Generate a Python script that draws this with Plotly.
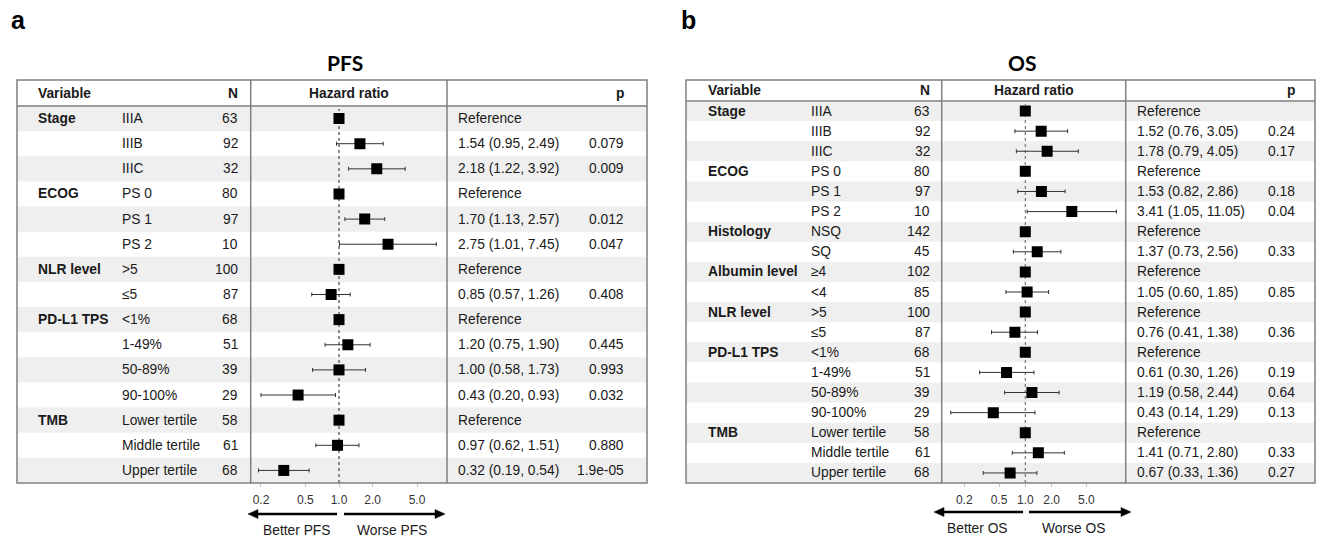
import math
import plotly.graph_objects as go

W, H = 1318, 539
FONT = "Liberation Sans, Arial, sans-serif"

# ---------------- data: PFS (panel a) ----------------
pfs_var = ["Stage", "", "", "ECOG", "", "", "NLR level", "", "PD-L1 TPS", "", "", "", "TMB", "", ""]
pfs_level = ["IIIA", "IIIB", "IIIC", "PS 0", "PS 1", "PS 2", ">5", "≤5", "<1%", "1-49%", "50-89%",
             "90-100%", "Lower tertile", "Middle tertile", "Upper tertile"]
pfs_n = [63, 92, 32, 80, 97, 10, 100, 87, 68, 51, 39, 29, 58, 61, 68]
pfs_hr = [1, 1.54, 2.18, 1, 1.70, 2.75, 1, 0.85, 1, 1.20, 1.00, 0.43, 1, 0.97, 0.32]
pfs_lo = [None, 0.95, 1.22, None, 1.13, 1.01, None, 0.57, None, 0.75, 0.58, 0.20, None, 0.62, 0.19]
pfs_hi = [None, 2.49, 3.92, None, 2.57, 7.45, None, 1.26, None, 1.90, 1.73, 0.93, None, 1.51, 0.54]
pfs_p = ["", "0.079", "0.009", "", "0.012", "0.047", "", "0.408", "", "0.445", "0.993", "0.032",
         "", "0.880", "1.9e-05"]

# ---------------- data: OS (panel b) ----------------
os_var = ["Stage", "", "", "ECOG", "", "", "Histology", "", "Albumin level", "", "NLR level", "",
          "PD-L1 TPS", "", "", "", "TMB", "", ""]
os_level = ["IIIA", "IIIB", "IIIC", "PS 0", "PS 1", "PS 2", "NSQ", "SQ", "≥4", "<4", ">5", "≤5",
            "<1%", "1-49%", "50-89%", "90-100%", "Lower tertile", "Middle tertile", "Upper tertile"]
os_n = [63, 92, 32, 80, 97, 10, 142, 45, 102, 85, 100, 87, 68, 51, 39, 29, 58, 61, 68]
os_hr = [1, 1.52, 1.78, 1, 1.53, 3.41, 1, 1.37, 1, 1.05, 1, 0.76, 1, 0.61, 1.19, 0.43, 1, 1.41, 0.67]
os_lo = [None, 0.76, 0.79, None, 0.82, 1.05, None, 0.73, None, 0.60, None, 0.41, None, 0.30, 0.58,
         0.14, None, 0.71, 0.33]
os_hi = [None, 3.05, 4.05, None, 2.86, 11.05, None, 2.56, None, 1.85, None, 1.38, None, 1.26, 2.44,
         1.29, None, 2.80, 1.36]
os_p = ["", "0.24", "0.17", "", "0.18", "0.04", "", "0.33", "", "0.85", "", "0.36", "", "0.19", "0.64",
        "0.13", "", "0.33", "0.27"]

tick_vals = [0.2, 0.5, 1, 2, 5]
tick_text = ["0.2", "0.5", "1.0", "2.0", "5.0"]


def PX(x):
    return x / W


def PY(y):
    return 1 - y / H


fig = go.Figure()
shapes = []
annots = []


def panel(idx, var, level, n, hr, lo, hi, p, geo, title, letter, better, worse):
    xa = "x" if idx == 1 else "x%d" % idx
    ya = "y" if idx == 1 else "y%d" % idx
    g = geo
    nrow = len(level)

    # stripes
    for i in range(nrow):
        if i % 2 == 0:
            shapes.append(dict(type="rect", xref="paper", yref=ya, x0=PX(g["left"]), x1=PX(g["right"]),
                               y0=i - 0.5, y1=i + 0.5, fillcolor="#efefef", line=dict(width=0),
                               layer="below"))
    # dashed null line
    shapes.append(dict(type="line", xref=xa, yref="paper", x0=1, x1=1, y0=PY(g["bottom"]),
                       y1=PY(g["hdr"] + 3), line=dict(color=g["dashc"], width=1.2, dash="3px,3px"),
                       layer="below"))
    # borders
    bc = dict(color="#808080", width=1.5)
    shapes.append(dict(type="rect", xref="paper", yref="paper", x0=PX(g["left"]), x1=PX(g["right"]),
                       y0=PY(g["bottom"]), y1=PY(g["top"]), line=bc, layer="above"))
    shapes.append(dict(type="line", xref="paper", yref="paper", x0=PX(g["left"]), x1=PX(g["right"]),
                       y0=PY(g["hdr"]), y1=PY(g["hdr"]), line=bc, layer="above"))
    for xv in (g["hrl"], g["hrr"]):
        shapes.append(dict(type="line", xref="paper", yref="paper", x0=PX(xv), x1=PX(xv),
                           y0=PY(g["bottom"]), y1=PY(g["top"]), line=bc, layer="above"))

    # markers + CI
    plus = [0 if h2 is None else h2 - h for h, h2 in zip(hr, hi)]
    minus = [0 if l is None else h - l for h, l in zip(hr, lo)]
    fig.add_trace(go.Scatter(
        x=hr, y=list(range(nrow)), xaxis=xa, yaxis=ya, mode="markers",
        marker=dict(symbol="square", size=11, color="black"),
        error_x=dict(type="data", symmetric=False, array=plus, arrayminus=minus,
                     color="#333333", thickness=1, width=2),
        showlegend=False, hoverinfo="skip"))

    tf = dict(family=FONT, size=13.8, color="#1a1a1a")
    # header
    hy = PY((g["top"] + g["hdr"]) / 2)
    annots.append(dict(text="<b>Variable</b>", x=PX(g["cvar"]), y=hy, xanchor="left"))
    annots.append(dict(text="<b>N</b>", x=PX(g["cn"]), y=hy, xanchor="right"))
    annots.append(dict(text="<b>Hazard ratio</b>", x=PX((g["hrl"] + g["hrr"]) / 2), y=hy, xanchor="center"))
    annots.append(dict(text="<b>p</b>", x=PX(g["cp"]), y=hy, xanchor="right"))
    for a in annots[-4:]:
        a.update(xref="paper", yref="paper", yanchor="middle", showarrow=False, font=tf)

    for i in range(nrow):
        hrt = "Reference" if lo[i] is None else "%.2f (%.2f, %.2f)" % (hr[i], lo[i], hi[i])
        row = []
        if var[i]:
            row.append(dict(text="<b>%s</b>" % var[i], x=PX(g["cvar"]), xanchor="left"))
        row.append(dict(text=level[i], x=PX(g["clev"]), xanchor="left"))
        row.append(dict(text=str(n[i]), x=PX(g["cn"]), xanchor="right"))
        row.append(dict(text=hrt, x=PX(g["chr"]), xanchor="left"))
        if p[i]:
            row.append(dict(text=p[i], x=PX(g["cp"]), xanchor="right"))
        for a in row:
            a.update(xref="paper", yref=ya, y=i, yanchor="middle", showarrow=False, font=tf)
        annots.extend(row)

    # title and panel letter
    annots.append(dict(text="<b>%s</b>" % title, x=PX(g["tx"]), y=PY(62), xref="paper", yref="paper",
                       xanchor="center", yanchor="middle", showarrow=False,
                       font=dict(family="Lato, sans-serif", size=21, color="black")))
    annots.append(dict(text="<b>%s</b>" % letter, x=PX(g["lx"]), y=PY(20), xref="paper", yref="paper",
                       xanchor="left", yanchor="middle", showarrow=False,
                       font=dict(family=FONT, size=25, color="black")))

    # arrows
    ay = g["ay"]
    for tail, head in ((g["lt"], g["lh"]), (g["rt"], g["rh"])):
        d = 1 if head > tail else -1
        base = head - d * 10
        shapes.append(dict(type="line", xref="paper", yref="paper", x0=PX(tail), x1=PX(base),
                           y0=PY(ay), y1=PY(ay), line=dict(color="black", width=2.5)))
        shapes.append(dict(type="path", xref="paper", yref="paper",
                           path="M %f %f L %f %f L %f %f Z" % (PX(head), PY(ay), PX(base), PY(ay - 4.5),
                                                               PX(base), PY(ay + 4.5)),
                           fillcolor="black", line=dict(color="black", width=0.5)))
    lf = dict(family=FONT, size=13.8, color="#1a1a1a")
    annots.append(dict(text=better, x=PX(g["bx"]), y=PY(g["ly"]), xref="paper", yref="paper",
                       xanchor="center", yanchor="middle", showarrow=False, font=lf))
    annots.append(dict(text=worse, x=PX(g["wx"]), y=PY(g["ly"]), xref="paper", yref="paper",
                       xanchor="center", yanchor="middle", showarrow=False, font=lf))

    # axes
    c1 = g["c1"]
    ppd = g["ppd"]
    lo_log = (g["hrl"] - c1) / ppd
    hi_log = (g["hrr"] - c1) / ppd
    xkey = "xaxis" if idx == 1 else "xaxis%d" % idx
    ykey = "yaxis" if idx == 1 else "yaxis%d" % idx
    fig.update_layout(**{
        xkey: dict(type="log", domain=[PX(g["hrl"]), PX(g["hrr"])], range=[lo_log, hi_log],
                   anchor=ya, tickvals=tick_vals, ticktext=tick_text, showgrid=False, zeroline=False,
                   showline=False, ticks="outside", ticklen=3, tickcolor="#c8c8c8",
                   tickfont=dict(family=FONT, size=12, color="#333333"), ticklabelstandoff=3,
                   fixedrange=True),
        ykey: dict(domain=[PY(g["bottom"]), PY(g["hdr"])], range=[nrow - 0.5, -0.5], anchor=xa,
                   visible=False, showgrid=False, zeroline=False, fixedrange=True),
    })


geo_a = dict(left=17, right=647, top=80, hdr=106, bottom=483, hrl=250.7, hrr=447,
             cvar=36, clev=120, cn=240, chr=456, cp=626, c1=339, ppd=111.6,
             tx=345, lx=9, ay=514, lt=337, lh=248, rt=344, rh=445, bx=296, wx=392, ly=530,
             dashc="#444444")
geo_b = dict(left=686, right=1315, top=80, hdr=101, bottom=483, hrl=941.7, hrr=1125.7,
             cvar=705.7, clev=809, cn=931.7, chr=1134.7, cp=1297, c1=1025.3, ppd=87.3,
             tx=1022, lx=679, ay=512, lt=1023, lh=934, rt=1029, rh=1131, bx=978, wx=1073, ly=528,
             dashc="#777777")

panel(1, pfs_var, pfs_level, pfs_n, pfs_hr, pfs_lo, pfs_hi, pfs_p, geo_a, "PFS", "a",
      "Better PFS", "Worse PFS")
panel(2, os_var, os_level, os_n, os_hr, os_lo, os_hi, os_p, geo_b, "OS", "b",
      "Better OS", "Worse OS")

fig.update_layout(width=W, height=H, margin=dict(l=0, r=0, t=0, b=0), paper_bgcolor="white",
                  plot_bgcolor="rgba(0,0,0,0)", shapes=shapes, annotations=annots, showlegend=False,
                  font=dict(family=FONT, color="#333333"))
fig.write_html("out.html", config={"displayModeBar": False},
               post_script="document.body.style.margin='0';document.body.style.padding='0';"
                           "document.body.style.overflow='hidden';")
